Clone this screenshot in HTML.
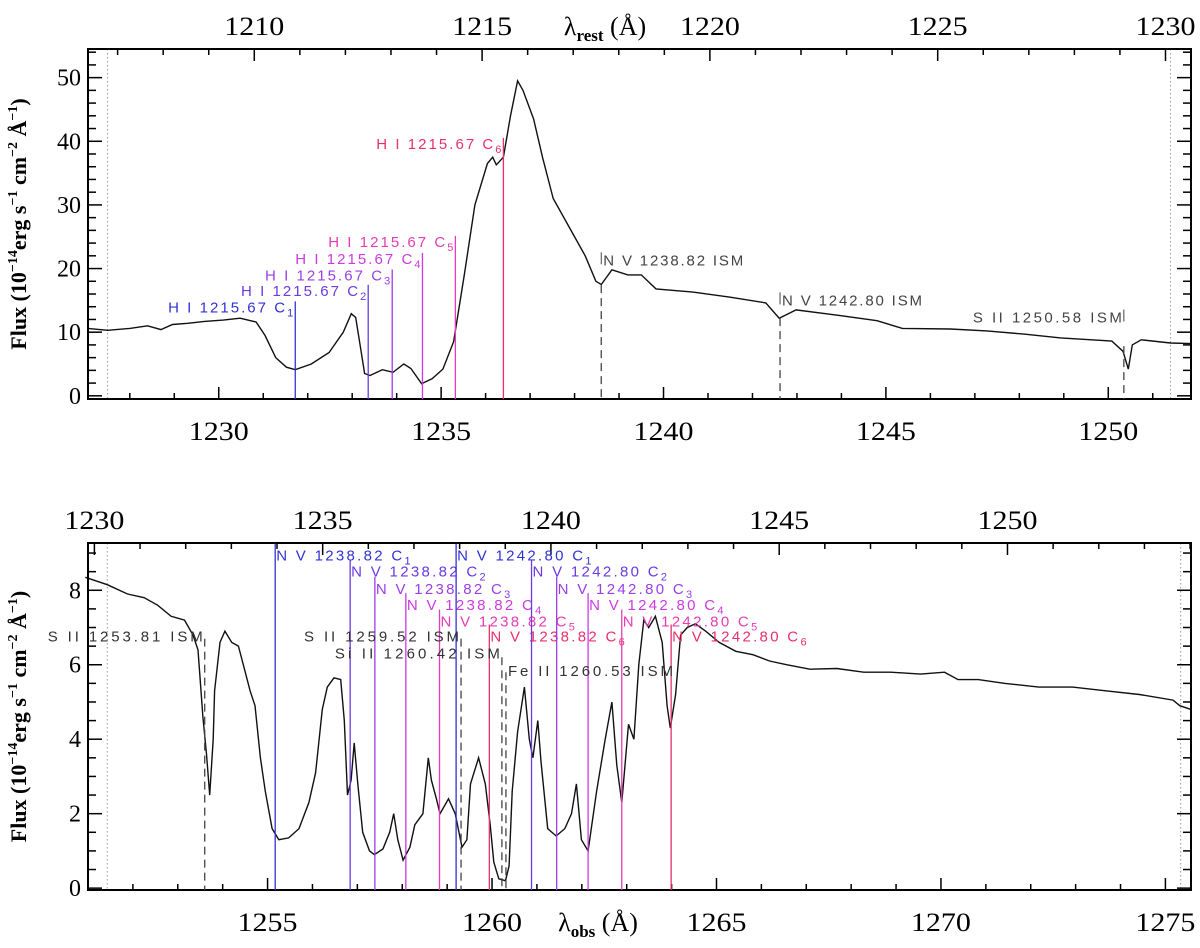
<!DOCTYPE html>
<html><head><meta charset="utf-8"><style>
html,body{margin:0;padding:0;background:#fff;}
svg{display:block;font-family:"Liberation Serif",serif;}
.lab{font-family:"Liberation Sans",sans-serif;font-size:15px;}
.tk{font-size:26px;}
.yt{font-size:24px;}
</style></head><body>
<svg id="chart" width="1200" height="948" viewBox="0 0 1200 948" xmlns="http://www.w3.org/2000/svg"></svg>
<script>
// ---------- data: top panel (Lyman alpha region) ----------
const topWave = [1227.06,1227.5,1228.0,1228.4,1228.7,1228.96,1229.3,1229.68,1230.1,1230.48,1230.84,1231.04,1231.28,1231.52,1231.72,1232.08,1232.48,1232.8,1232.98,1233.08,1233.2,1233.28,1233.4,1233.68,1233.92,1234.16,1234.32,1234.56,1234.8,1235.04,1235.28,1235.52,1235.76,1236.04,1236.16,1236.24,1236.4,1236.56,1236.72,1236.84,1237.08,1237.28,1237.52,1237.92,1238.24,1238.48,1238.6,1238.84,1239.2,1239.5,1239.83,1240.66,1241.5,1242.3,1242.6,1242.98,1243.97,1244.8,1245.37,1246.45,1247.27,1248.1,1248.93,1250.08,1250.33,1250.45,1250.54,1250.74,1251.4,1251.86];
const topFlux = [10.6,10.3,10.6,11.0,10.4,11.2,11.4,11.7,11.9,12.2,11.6,9.5,6.0,4.5,4.1,5.0,6.8,10.0,12.9,12.3,7.0,3.5,3.2,4.1,3.7,5.0,4.3,1.9,2.7,4.2,8.5,19.0,30.0,36.5,37.5,36.3,37.5,44.0,49.5,48.0,43.5,37.5,31.0,26.0,22.0,18.0,17.5,19.8,19.0,19.0,16.8,16.3,15.5,14.6,12.2,13.5,12.6,11.8,10.6,10.5,10.2,9.7,9.1,8.6,7.0,4.2,8.0,8.8,8.3,8.2];
// ---------- data: bottom panel (N V region) ----------
const botWave = [1250.94,1251.43,1251.88,1252.25,1252.55,1252.85,1253.15,1253.34,1253.45,1253.56,1253.64,1253.71,1253.79,1253.82,1253.94,1254.05,1254.2,1254.35,1254.46,1254.61,1254.72,1254.84,1254.95,1255.1,1255.25,1255.47,1255.7,1255.92,1256.07,1256.22,1256.33,1256.48,1256.63,1256.71,1256.78,1256.86,1256.93,1257.01,1257.12,1257.27,1257.38,1257.57,1257.72,1257.81,1257.9,1258.02,1258.17,1258.28,1258.46,1258.58,1258.65,1258.76,1258.84,1259.03,1259.18,1259.33,1259.44,1259.52,1259.7,1259.85,1259.96,1260.04,1260.15,1260.3,1260.38,1260.45,1260.57,1260.72,1260.83,1260.91,1261.02,1261.09,1261.24,1261.43,1261.62,1261.77,1261.88,1261.99,1262.14,1262.33,1262.52,1262.67,1262.78,1262.89,1263.04,1263.16,1263.27,1263.38,1263.49,1263.64,1263.79,1263.9,1263.97,1264.09,1264.2,1264.35,1264.53,1264.76,1265.06,1265.43,1265.81,1266.18,1266.56,1267.08,1267.68,1268.28,1268.88,1269.55,1270.08,1270.38,1270.83,1271.43,1272.18,1272.93,1273.67,1274.42,1275.17,1275.32,1275.57];
const botFlux = [8.35,8.15,7.9,7.8,7.6,7.3,7.2,6.8,6.4,4.6,3.6,2.5,4.0,5.3,6.6,6.9,6.6,6.5,6.0,5.3,4.9,3.5,2.6,1.6,1.3,1.35,1.6,2.3,3.1,4.8,5.4,5.65,5.6,4.5,2.5,2.9,3.9,2.8,1.5,1.0,0.9,1.05,1.5,2.0,1.3,0.75,1.1,1.7,2.0,3.5,2.9,2.4,2.0,2.4,2.0,1.1,1.3,2.8,3.5,2.8,1.7,0.7,0.25,0.2,0.6,2.6,4.2,5.4,4.0,3.5,4.5,3.4,1.6,1.4,1.6,2.0,2.8,1.3,1.0,2.6,4.0,5.0,3.3,2.3,4.4,4.0,6.0,7.2,7.0,7.3,6.6,4.9,4.3,5.2,6.8,7.0,7.1,6.9,6.6,6.36,6.27,6.1,6.0,5.88,5.9,5.8,5.8,5.75,5.8,5.6,5.6,5.5,5.4,5.4,5.3,5.2,5.05,4.9,4.8];
// ---------- component lines ----------
const topCompNames = ["H I 1215.67 C","H I 1215.67 C","H I 1215.67 C","H I 1215.67 C","H I 1215.67 C","H I 1215.67 C"];
const topCompSub = ["1","2","3","4","5","6"];
const topCompWave = [1231.72,1233.36,1233.9,1234.58,1235.32,1236.4];
const topCompLabelFlux = [13.9,16.5,18.9,21.5,24.2,39.6];
const topIsmNames = ["N V 1238.82 ISM","N V 1242.80 ISM","S II 1250.58 ISM"];
const topIsmWave = [1238.6,1242.62,1250.35];
const topIsmFlux = [17.4,12.2,7.8];
const topIsmLabelFlux = [21.3,15.0,12.3];
const topIsmSide = ["right","right","left"];

const botComp1Wave = [1255.17,1256.84,1257.39,1258.08,1258.83,1259.94];
const botComp2Wave = [1259.2,1260.88,1261.44,1262.14,1262.89,1263.99];
const botCompLabelFlux = [8.93,8.5,8.04,7.6,7.16,6.76];
const botIsmNames = ["S II 1253.81 ISM","S II 1259.52 ISM","Si II 1260.42 ISM","Fe II 1260.53 ISM"];
const botIsmWave = [1253.6,1259.31,1260.22,1260.31];
const botIsmFlux = [6.7,6.7,6.2,5.8];
const botIsmLabelFlux = [6.76,6.76,6.3,5.83];
const botIsmSide = ["left","left","left","right"];
const compColors = ["#3232d2","#6a3ae2","#9a3ee8","#cc3ae0","#e63cb4","#e8306c"];
// ---------- ticks ----------
const topObsTicks = [1230,1235,1240,1245,1250];
const topRestTicks = [1210,1215,1220,1225,1230];
const topYTicks = [0,10,20,30,40,50];
const botObsTicks = [1255,1260,1265,1270,1275];
const botTopTicks = [1230,1235,1240,1245,1250];
const botYTicks = [0,2,4,6,8];

const NS="http://www.w3.org/2000/svg";
const svg=document.getElementById('chart');
function el(tag,attrs,parent){const e=document.createElementNS(NS,tag);for(const k in attrs)e.setAttribute(k,attrs[k]);(parent||svg).appendChild(e);return e;}

const L=88,R=1191;
const P1={top:49,bot:399,x0:1227.06,x1:1251.86,y0:-0.5,y1:54.5,t0:1206.35,t1:1230.56,minorY:2};
const P2={top:543,bot:890,x0:1251.0,x1:1275.57,y0:-0.05,y1:9.27,t0:1229.86,t1:1254.02,minorY:0.5};
function sx(P,w){return L+(w-P.x0)/(P.x1-P.x0)*(R-L);}
function st(P,w){return L+(w-P.t0)/(P.t1-P.t0)*(R-L);}
function sy(P,f){return P.bot-(f-P.y0)/(P.y1-P.y0)*(P.bot-P.top);}

function drawPanel(P,name,waves,flux,obsTicks,topTicks,yTicks,topTitle,botTitle){
  const g=el('g',{});
  
  
  // dotted edge lines
  [waves===topWave?1227.5:1251.43, waves===topWave?1251.4:1275.34].forEach(w=>{
    const d=el('line',{x1:sx(P,w),x2:sx(P,w),y1:P.top,y2:P.bot,stroke:'#999','stroke-width':1,'stroke-dasharray':'1.5,2.5'},g);
    
    
  });
  // spectrum
  let d='';
  for(let i=0;i<waves.length;i++){d+=(i?'L':'M')+sx(P,waves[i]).toFixed(1)+','+sy(P,flux[i]).toFixed(1);}
  const sp=el('path',{d:d,fill:'none',stroke:'#111','stroke-width':1.4,'stroke-linejoin':'miter'},g);
  
  
  // box
  const bx=el('rect',{x:L,y:P.top,width:R-L,height:P.bot-P.top,fill:'none',stroke:'#000','stroke-width':2},g);
  
  
  // x ticks bottom (obs) minor every 1
  for(let w=Math.ceil(P.x0);w<=P.x1;w++){
    const maj=(w%5===0);const x=sx(P,w);const len=maj?12:6;
    el('line',{x1:x,x2:x,y1:P.bot,y2:P.bot-len,stroke:'#000','stroke-width':1.5},g);
  }
  obsTicks.forEach(v=>{
    const t=el('text',{x:sx(P,v),y:P.bot+41,'text-anchor':'middle',class:'tk',textLength:60,lengthAdjust:'spacingAndGlyphs'},g);
    t.textContent=v;
    
    
  });
  // top axis ticks
  for(let w=Math.ceil(P.t0);w<=P.t1;w++){
    const maj=(w%5===0);const x=st(P,w);const len=maj?12:6;
    el('line',{x1:x,x2:x,y1:P.top,y2:P.top+len,stroke:'#000','stroke-width':1.5},g);
  }
  topTicks.forEach(v=>{
    const t=el('text',{x:st(P,v),y:P.top-14,'text-anchor':'middle',class:'tk',textLength:60,lengthAdjust:'spacingAndGlyphs'},g);
    t.textContent=v;
    
    
  });
  // y ticks
  for(let f=Math.ceil(P.y0/P.minorY)*P.minorY;f<=P.y1+1e-6;f+=P.minorY){
    const maj=yTicks.some(v=>Math.abs(v-f)<1e-6);const y=sy(P,f);const len=maj?14:8;
    el('line',{x1:L,x2:L+len,y1:y,y2:y,stroke:'#000','stroke-width':1.5},g);
    el('line',{x1:R,x2:R-len,y1:y,y2:y,stroke:'#000','stroke-width':1.5},g);
  }
  yTicks.forEach(v=>{
    const t=el('text',{x:81,y:sy(P,v)+8,'text-anchor':'end',class:'yt'},g);
    t.textContent=v;
    
    
  });
  // titles
  if(topTitle){
    const t=el('text',{x:605,y:P.top-14,'text-anchor':'middle',style:'font-size:26px'},g);
    t.innerHTML='λ<tspan dy="6" font-size="17" font-weight="bold">rest</tspan><tspan dy="-6"> (Å)</tspan>';
    
    
  }
  if(botTitle){
    const t=el('text',{x:598,y:P.bot+41,'text-anchor':'middle',style:'font-size:26px'},g);
    t.innerHTML='λ<tspan dy="6" font-size="17" font-weight="bold">obs</tspan><tspan dy="-6"> (Å)</tspan>';
    
    
  }
  const yc=(P.top+P.bot)/2;
  const yt=el('text',{x:0,y:0,'text-anchor':'middle',transform:'translate(26,'+yc+') rotate(-90)',style:'font-size:22px;font-weight:bold'},g);
  yt.innerHTML='Flux (10<tspan dy="-9" font-size="14">−14</tspan><tspan dy="9">erg s</tspan><tspan dy="-9" font-size="14">−1</tspan><tspan dy="9"> cm</tspan><tspan dy="-9" font-size="14">−2</tspan><tspan dy="9"> Å</tspan><tspan dy="-9" font-size="14">−1</tspan><tspan dy="9">)</tspan>';
  
  
  return g;
}

function label(g,x,y,text,sub,color,anchor,cw){
  const t=el('text',{x:x,y:y,'text-anchor':anchor,class:'lab',fill:color},g);
  const main=el('tspan',{textLength:(text.length*cw).toFixed(0),lengthAdjust:'spacing'},t);
  main.textContent=text;
  if(sub){const s=el('tspan',{dy:4,'font-size':11},t);s.textContent=sub;}
  
  
  return t;
}

// ----- top panel -----
const g1=drawPanel(P1,'top-panel',topWave,topFlux,topObsTicks,topRestTicks,topYTicks,true,false);
topCompWave.forEach((w,i)=>{
  const x=sx(P1,w);const yl=sy(P1,topCompLabelFlux[i]);
  const ln=el('line',{x1:x,x2:x,y1:yl-6,y2:P1.bot,stroke:compColors[i],'stroke-width':1.3},g1);
  
  
  label(g1,x-2,yl+5,topCompNames[i],topCompSub[i],compColors[i],'end',9.0);
});
topIsmWave.forEach((w,i)=>{
  const x=sx(P1,w);const yl=sy(P1,topIsmLabelFlux[i]);
  const ln=el('line',{x1:x,x2:x,y1:sy(P1,topIsmFlux[i]),y2:P1.bot,stroke:'#444','stroke-width':1.3,'stroke-dasharray':'8,5'},g1);
  
  
  el('line',{x1:x,x2:x,y1:yl-8,y2:yl+4,stroke:'#444','stroke-width':1},g1);
  const side=topIsmSide[i];
  label(g1,side==='right'?x+2:x-2,yl+5,topIsmNames[i],'','#444',side==='right'?'start':'end',9.3);
});

// ----- bottom panel -----
const g2=drawPanel(P2,'bottom-panel',botWave,botFlux,botObsTicks,botTopTicks,botYTicks,false,true);
[botComp1Wave,botComp2Wave].forEach((arr,k)=>{
  const nm=k===0?'N V 1238.82 C':'N V 1242.80 C';
  arr.forEach((w,i)=>{
    const x=sx(P2,w);const yl=sy(P2,botCompLabelFlux[i]);
    const ln=el('line',{x1:x,x2:x,y1:yl-12,y2:P2.bot,stroke:compColors[i],'stroke-width':1.3},g2);
    
    
    label(g2,x+1,yl+5,nm,String(i+1),compColors[i],'start',9.7);
  });
});
botIsmWave.forEach((w,i)=>{
  const x=sx(P2,w);const yl=sy(P2,botIsmLabelFlux[i]);
  const ln=el('line',{x1:x,x2:x,y1:sy(P2,botIsmFlux[i]),y2:P2.bot,stroke:'#444','stroke-width':1.3,'stroke-dasharray':'8,5'},g2);
  
  
  const side=botIsmSide[i];
  label(g2,side==='right'?x+2:x-2,yl+5,botIsmNames[i],'','#333',side==='right'?'start':'end',9.7);
});
</script>
</body></html>
